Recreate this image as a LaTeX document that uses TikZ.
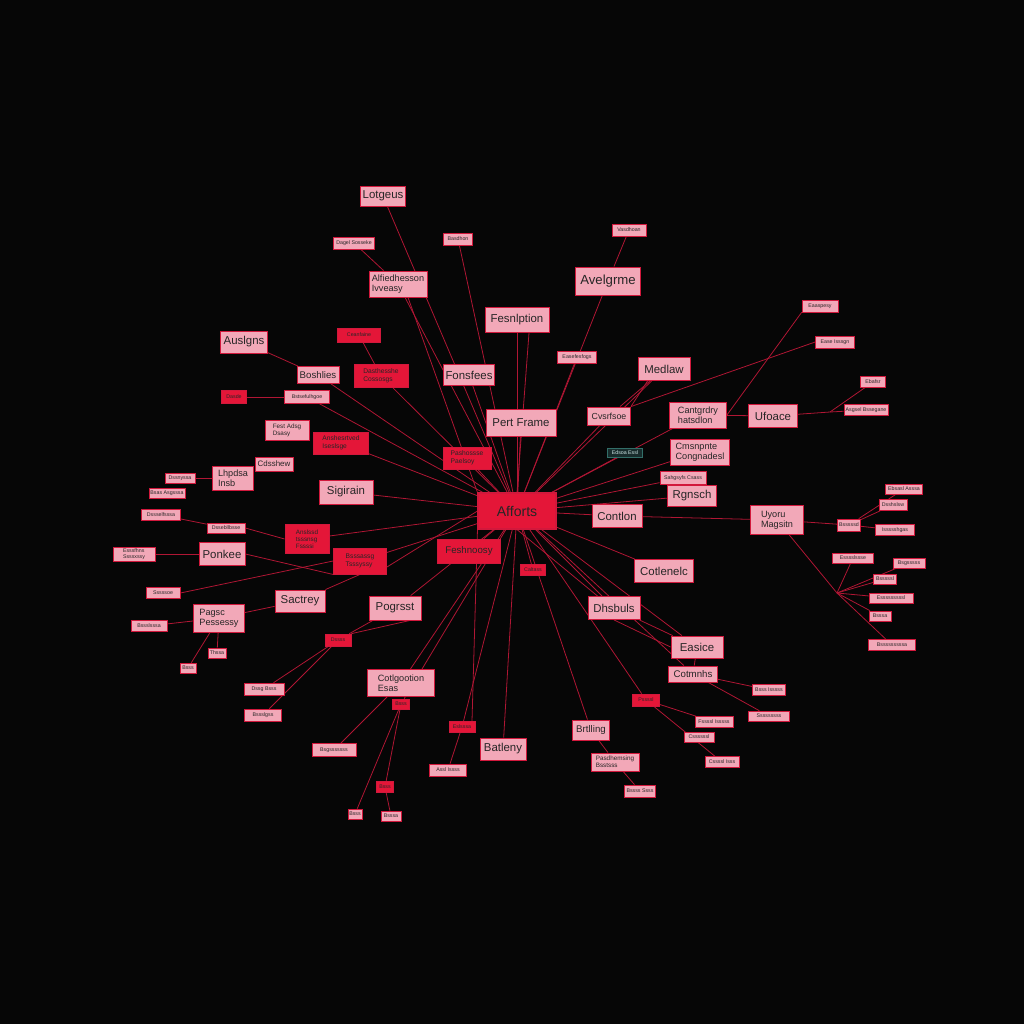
\documentclass[tikz,border=0pt]{standalone}
\usepackage{fontspec}
\setmainfont{Liberation Sans}
\usepackage{xcolor}
\usepackage{tikz}
\usetikzlibrary{positioning}

\definecolor{bgblack}{RGB}{6,6,6}
\definecolor{pinkfill}{RGB}{242,168,184}
\definecolor{boxedge}{RGB}{210,24,60}
\definecolor{redfill}{RGB}{228,22,56}
\definecolor{linkred}{RGB}{176,22,52}
\definecolor{tealfill}{RGB}{24,44,44}
\definecolor{tealedge}{RGB}{50,110,104}

\pgfdeclarelayer{background}
\pgfsetlayers{background,main}

\begin{document}
\begin{tikzpicture}[x=0.2mm, y=-0.2mm,
            wd/.style={minimum width=#1*0.2mm},
            ht/.style={minimum height=#1*0.2mm},
            hub/.style={draw=boxedge, fill=redfill, line width=0.6pt, inner sep=1pt, text=black!85, font=\fontsize{8}{9}\selectfont},
            topic/.style={draw=boxedge, fill=pinkfill, line width=0.5pt, inner sep=1pt, text=black!85, font=\fontsize{6.5}{7}\selectfont},
            topictwo/.style={topic, align=left, font=\fontsize{5.2}{5.6}\selectfont},
            topicsmall/.style={topic, align=left, font=\fontsize{3.6}{4}\selectfont},
            topicred/.style={topic, fill=redfill},
            topicredtwo/.style={topictwo, fill=redfill, font=\fontsize{3.8}{4.4}\selectfont},
            leaf/.style={draw=boxedge, fill=pinkfill, line width=0.4pt, inner sep=0.5pt, text=black!85, align=left, font=\fontsize{3}{3.3}\selectfont},
            leafred/.style={leaf, fill=redfill},
            tealtag/.style={draw=tealedge, fill=tealfill, line width=0.4pt, inner sep=0.5pt, text=white!80!teal, font=\fontsize{3}{3.3}\selectfont},
            link/.style={draw=linkred, line width=0.45pt}]

            \useasboundingbox (0,0) rectangle (1024,1024);

            % Hub
            \node (afforts) [hub, wd=78, ht=36] at (517,511) {Afforts};

            % Main topics
            \node (lotgeus) [topic, wd=43, ht=20] at (383,196) {Lotgeus};
            \node (alfied) [topictwo, wd=58, ht=26] at (398,284) {Alfiedhesson\\Ivveasy};
            \node (avelgrme) [topic, wd=65, ht=28, font=\fontsize{7.5}{8}\selectfont] at (608,281) {Avelgrme};
            \node (fesnlption) [topic, wd=64, ht=25] at (517,320) {Fesnlption};
            \node (auslgns) [topic, wd=47, ht=22] at (244,342) {Auslgns};
            \node (boshlies) [topic, wd=42, ht=17, font=\fontsize{5.5}{6}\selectfont] at (318,375) {Boshlies};
            \node (fonsfees) [topic, wd=51, ht=21] at (469,375) {Fonsfees};
            \node (medlaw) [topic, wd=52, ht=23] at (664,369) {Medlaw};
            \node (pertframe) [topic, wd=70, ht=27] at (521,423) {Pert Frame};
            \node (cvsrfsoe) [topic, wd=43, ht=18, font=\fontsize{5}{6}\selectfont] at (609,416) {Cvsrfsoe};
            \node (cantgrdry) [topictwo, wd=57, ht=26] at (698,415) {Cantgrdry\\hatsdlon};
            \node (ufoace) [topic, wd=49, ht=23] at (773,416) {Ufoace};
            \node (cmsnpnte) [topictwo, wd=59, ht=26] at (700,452) {Cmsnpnte\\Congnadesl};
            \node (lhpdsa) [topictwo, wd=41, ht=24] at (233,478) {Lhpdsa\\Insb};
            \node (cdsshew) [topic, wd=38, ht=14, font=\fontsize{4.5}{5}\selectfont] at (274,464) {Cdsshew};
            \node (sigirain) [topic, wd=54, ht=24] at (346,492) {Sigirain};
            \node (rgnsch) [topic, wd=49, ht=21] at (692,496) {Rgnsch};
            \node (contlon) [topic, wd=50, ht=23] at (617,516) {Contlon};
            \node (uyoru) [topictwo, wd=53, ht=29] at (777,520) {Uyoru\\Magsitn};
            \node (ponkee) [topic, wd=46, ht=23] at (222,554) {Ponkee};
            \node (cotlenelc) [topic, wd=59, ht=23] at (664,571) {Cotlenelc};
            \node (sactrey) [topic, wd=50, ht=22] at (300,601) {Sactrey};
            \node (pogrsst) [topic, wd=52, ht=24] at (395,608) {Pogrsst};
            \node (dhsbuls) [topic, wd=52, ht=23] at (614,608) {Dhsbuls};
            \node (pagsc) [topictwo, wd=51, ht=28] at (219,618) {Pagsc\\Pessessy};
            \node (easice) [topic, wd=52, ht=22] at (697,647) {Easice};
            \node (cotmnhs) [topic, wd=49, ht=16, font=\fontsize{5.5}{6}\selectfont] at (693,674) {Cotmnhs};
            \node (cotlgoo) [topictwo, wd=67, ht=27] at (401,683) {Cotlgootion\\Esas};
            \node (brtlling) [topic, wd=37, ht=20, font=\fontsize{5.5}{6}\selectfont] at (591,730) {Brtlling};
            \node (batleny) [topic, wd=46, ht=22] at (503,749) {Batleny};
            \node (pasdhem) [topicsmall, wd=48, ht=18] at (615,762) {Pasdhemsing\\Bsstsss};
            \node (festadsg) [topicsmall, wd=44, ht=20] at (287,430) {Fest Adsg\\Dsasy};

            % Red topics
            \node (dasthesshe) [topicredtwo, wd=54, ht=23] at (381,376) {Dasthesshe\\Cossosgs};
            \node (anshes) [topicredtwo, wd=55, ht=22] at (341,443) {Anshesrtved\\Iseslsge};
            \node (pashossse) [topicredtwo, wd=48, ht=22] at (467,458) {Pashossse\\Paelsoy};
            \node (anslssd) [topicredtwo, wd=44, ht=29, font=\fontsize{3.6}{3.9}\selectfont] at (307,539) {Anslssd\\tsssnsg\\Fssssi};
            \node (bsssassg) [topicredtwo, wd=53, ht=26] at (360,561) {Bsssassg\\Tsssyssy};
            \node (feshnoosy) [topicred, wd=63, ht=24, font=\fontsize{5.5}{6}\selectfont] at (469,551) {Feshnoosy};

            % Small leaves
            \node (dagel) [leaf, wd=41, ht=12] at (354,243) {Dagel Sosseke};
            \node (basdhon) [leaf, wd=29, ht=12] at (458,239) {Basdhon};
            \node (vasdhoan) [leaf, wd=34, ht=12] at (629,230) {Vasdhoan};
            \node (easefes) [leaf, wd=39, ht=12] at (577,357) {Easefesfogs};
            \node (bstseful) [leaf, wd=45, ht=13] at (307,397) {Bstsefulhgoe};
            \node (eaaspesy) [leaf, wd=36, ht=12] at (820,306) {Eaaspesy};
            \node (easeiss) [leaf, wd=39, ht=12] at (835,342) {Ease Isssgn};
            \node (ebafsr) [leaf, wd=25, ht=11] at (873,382) {Ebafsr};
            \node (asgsel) [leaf, wd=44, ht=11] at (866,410) {Asgsel Bssegane};
            \node (dssnyssa) [leaf, wd=30, ht=10] at (180,478) {Dssnyssa};
            \node (bsasasg) [leaf, wd=36, ht=10] at (167,493) {Bsas Asgsssa};
            \node (sahgsyfs) [leaf, wd=46, ht=13] at (683,478) {Sahgsyfs Csass};
            \node (dssself) [leaf, wd=39, ht=11] at (161,515) {Dssselfsssa};
            \node (dssebll) [leaf, wd=38, ht=10] at (226,528) {Dssebllbsse};
            \node (ebsasl) [leaf, wd=37, ht=10] at (904,489) {Ebsasl Asssa};
            \node (dsshslsw) [leaf, wd=28, ht=11] at (893,505) {Dsshslsw};
            \node (bsssssd) [leaf, wd=23, ht=12] at (849,525) {Bsssssd};
            \node (issssh) [leaf, wd=39, ht=11] at (895,530) {Issssshgas};
            \node (esssfhns) [leaf, wd=42, ht=14] at (134,554) {Esssfhns\\Ssssxssy};
            \node (esssls) [leaf, wd=41, ht=10] at (853,558) {Esssslssse};
            \node (bsgsss) [leaf, wd=32, ht=10] at (909,563) {Bsgsssss};
            \node (bsssssl) [leaf, wd=23, ht=10] at (885,579) {Bsssssl};
            \node (essssl) [leaf, wd=44, ht=10] at (891,598) {Esssssssssl};
            \node (bsssa) [leaf, wd=22, ht=10] at (880,616) {Bsssa};
            \node (bsssssa) [leaf, wd=47, ht=11] at (892,645) {Bsssssssssa};
            \node (sssssoe) [leaf, wd=34, ht=11] at (163,593) {Sssssoe};
            \node (bssslsssa) [leaf, wd=36, ht=11] at (149,626) {Bssslsssa};
            \node (thssa) [leaf, wd=18, ht=10] at (217,653) {Thssa};
            \node (bsssl) [leaf, wd=16, ht=10] at (188,668) {Bsss};
            \node (dssgbsss) [leaf, wd=40, ht=12] at (264,689) {Dssg Bsss};
            \node (bssslgss) [leaf, wd=37, ht=12] at (263,715) {Bssslgss};
            \node (bsssisss) [leaf, wd=33, ht=11] at (769,690) {Bsss Isssss};
            \node (sssssss) [leaf, wd=41, ht=10] at (769,716) {Sssssssss};
            \node (fssssl) [leaf, wd=38, ht=11] at (714,722) {Fssssl Isssss};
            \node (cssssssl) [leaf, wd=30, ht=10] at (699,737) {Cssssssl};
            \node (bsgsssss) [leaf, wd=44, ht=13] at (334,750) {Bsgsssssss};
            \node (assliss) [leaf, wd=37, ht=12] at (448,770) {Assl Issss};
            \node (bsss) [leaf, wd=14, ht=10] at (355,814) {Bsss};
            \node (bsssatwo) [leaf, wd=20, ht=10] at (391,816) {Bsssa};
            \node (bssssss) [leaf, wd=31, ht=12] at (640,791) {Bssss Ssss};
            \node (cssslis) [leaf, wd=34, ht=11] at (722,762) {Cssssl Isss};

            % Small red leaves
            \node (ceanfaine) [leafred, wd=43, ht=14] at (359,335) {Ceanfaine};
            \node (dasde) [leafred, wd=25, ht=13] at (234,397) {Dasde};
            \node (caltass) [leafred, wd=25, ht=11] at (533,570) {Caltass};
            \node (dssss) [leafred, wd=26, ht=12] at (338,640) {Dssss};
            \node (bsssr) [leafred, wd=17, ht=10] at (401,704) {Bsss};
            \node (pssssl) [leafred, wd=27, ht=12] at (646,700) {Pssssl};
            \node (eslsssa) [leafred, wd=26, ht=11] at (462,727) {Eslsssa};
            \node (bsssrtwo) [leafred, wd=17, ht=11] at (385,787) {Bsss};

            % Teal tag
            \node (edsoa) [tealtag, wd=35, ht=9] at (625,453) {Edsoa Essl};

            % Junctions
            \coordinate (ufoacejoin) at (830,412);
            \coordinate (uyorujoin) at (837,593);

            \begin{pgfonlayer}{background}
            \fill[bgblack] (0,0) rectangle (1024,1024);

            % Hub spokes
            \foreach \n in {lotgeus, alfied, basdhon, fesnlption, avelgrme, easefes, medlaw, cvsrfsoe,
                cantgrdry, cmsnpnte, edsoa, sahgsyfs, rgnsch, contlon, cotlenelc, dhsbuls, easice,
                cotmnhs, pssssl, brtlling, batleny, eslsssa, cotlgoo, bsssr, pogrsst, bsssassg,
                anslssd, sigirain, anshes, bstseful, boshlies, dasthesshe, fonsfees, pashossse,
                pertframe, feshnoosy, caltass}
                \draw[link] (afforts) -- (\n);
            \draw[link] (afforts.north) -- ([xshift=2.4mm]fesnlption.south);
            \draw[link] (afforts.north west) -- ([xshift=2mm]alfied.south);
            \draw[link] (afforts.south west) -- ([xshift=2mm]eslsssa.north);
            \draw[link] (afforts.west) -- ([yshift=-1.2mm]bsssassg.east);
            \draw[link] (afforts.south) -- ([xshift=2mm]dhsbuls.north west);

            % Branches
            \draw[link] (dagel) -- (alfied);
            \draw[link] (vasdhoan) -- (avelgrme);
            \draw[link] (ceanfaine) -- (dasthesshe);
            \draw[link] (auslgns) -- (boshlies);
            \draw[link] (dasde) -- (bstseful);
            \draw[link] (medlaw) -- (cvsrfsoe);
            \draw[link] ([xshift=2mm]medlaw.south west) -- (cvsrfsoe.north east);
            \draw[link] (cvsrfsoe.north east) -- (easeiss.west);
            \draw[link] (cantgrdry.east) -- (eaaspesy.south west);
            \draw[link] (cantgrdry) -- (ufoace);
            \draw[link] (ufoace) -- (ufoacejoin) -- (asgsel);
            \draw[link] (ufoacejoin) -- (ebafsr);
            \draw[link] (dssnyssa) -- (lhpdsa);
            \draw[link] (dssself) -- (dssebll);
            \draw[link] (dssebll.east) -- (anslssd.west);
            \draw[link] (esssfhns) -- (ponkee);
            \draw[link] (ponkee.east) -- (bsssassg.south west);
            \draw[link] (sssssoe.east) -- (bsssassg.west);
            \draw[link] (sactrey.north east) -- (bsssassg.south);
            \draw[link] (pagsc) -- (sactrey);
            \draw[link] (bssslsssa) -- (pagsc);
            \draw[link] (pagsc) -- (thssa);
            \draw[link] (pagsc) -- (bsssl);
            \draw[link] (dssss) -- (pogrsst);
            \draw[link] (dssss.north east) -- ([xshift=3mm]pogrsst.south);
            \draw[link] (dssgbsss) -- (dssss);
            \draw[link] (bssslgss) -- (dssss);
            \draw[link] (bsgsssss) -- (cotlgoo);
            \draw[link] (bsssr) -- (bsss);
            \draw[link] (bsssr) -- (bsssrtwo);
            \draw[link] (bsssrtwo) -- (bsssatwo);
            \draw[link] (assliss) -- (eslsssa);
            \draw[link] (brtlling) -- (pasdhem);
            \draw[link] (pasdhem) -- (bssssss);
            \draw[link] (pssssl) -- (fssssl);
            \draw[link] (pssssl) -- (cssslis);
            \draw[link] (cotmnhs) -- (bsssisss);
            \draw[link] (cotmnhs) -- (sssssss);
            \draw[link] (dhsbuls) -- (easice);
            \draw[link] (dhsbuls.south) -- (easice.west);
            \draw[link] (easice) -- (cotmnhs);
            \draw[link] (contlon) -- (uyoru);
            \draw[link] (uyoru) -- (bsssssd);
            \foreach \n in {ebsasl, dsshslsw, issssh}
                \draw[link] (bsssssd) -- (\n);
            \draw[link] (uyoru) -- (uyorujoin) -- (bsssssa);
            \foreach \n in {esssls, bsgsss, bsssssl, essssl, bsssa}
                \draw[link] (uyorujoin) -- (\n);
            \end{pgfonlayer}
\end{tikzpicture}
\end{document}
